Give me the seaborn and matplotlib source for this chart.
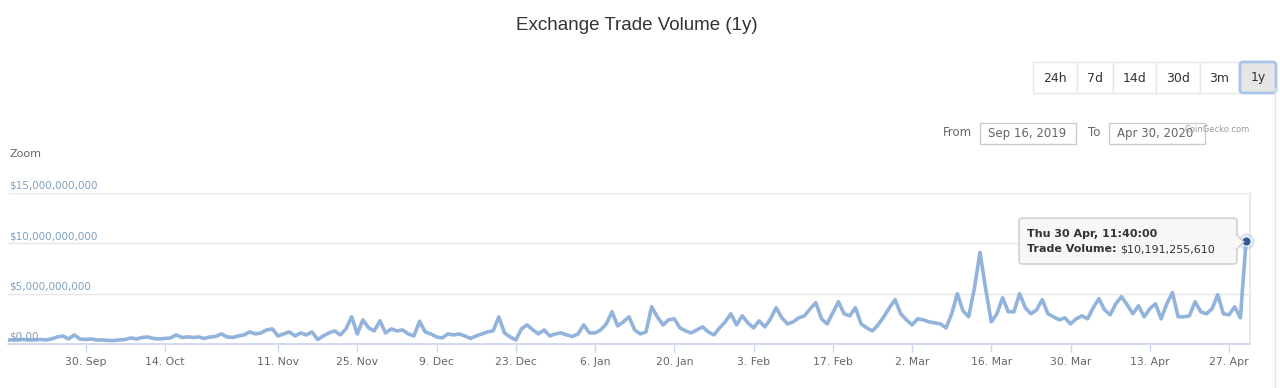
import matplotlib
matplotlib.use("Agg")
import matplotlib.pyplot as plt
import matplotlib.patches as patches
import matplotlib.transforms as mtransforms
import seaborn as sns
import pandas as pd
import numpy as np

# daily exchange trade volume, billions of USD (feed has no data for Oct 24-31)
start_date = "2019-09-16"
end_date = "2020-04-30"
gap_start = "2019-10-24"
gap_end = "2019-10-31"

volume_bn = [
    0.4, 0.4, 0.4, 0.45, 0.4, 0.4, 0.45, 0.4, 0.5, 0.7,
    0.8, 0.5, 0.9, 0.5, 0.45, 0.5, 0.4, 0.4, 0.35, 0.35,
    0.4, 0.45, 0.6, 0.5, 0.65, 0.7, 0.55, 0.5, 0.55, 0.6,
    0.9, 0.65, 0.7, 0.65, 0.7, 0.55, 0.7, 0.75, 1.0, 0.7,
    0.65, 0.8, 0.9, 1.2, 1.0, 1.1, 1.4, 1.5, 0.8, 1.0,
    1.2, 0.8, 1.1, 0.9, 1.2, 0.45, 0.8, 1.1, 1.3, 0.9,
    1.5, 2.7, 1.0, 2.4, 1.6, 1.3, 2.3, 1.1, 1.5, 1.3,
    1.4, 1.0, 0.8, 2.25, 1.2, 1.0, 0.7, 0.6, 1.0, 0.9,
    1.0, 0.8, 0.55, 0.8, 1.0, 1.2, 1.3, 2.7, 1.1, 0.7,
    0.4, 1.5, 1.9, 1.4, 1.0, 1.4, 0.8, 1.0, 1.1, 0.9,
    0.75, 1.0, 1.9, 1.1, 1.1, 1.4, 2.0, 3.2, 1.8, 2.2,
    2.7, 1.4, 1.0, 1.2, 3.7, 2.7, 1.9, 2.4, 2.5, 1.6,
    1.3, 1.1, 1.4, 1.7, 1.2, 0.9, 1.6, 2.2, 3.0, 1.9,
    2.8, 2.1, 1.6, 2.3, 1.7, 2.5, 3.6, 2.6, 2.0, 2.2,
    2.6, 2.8, 3.5, 4.1, 2.5, 2.0, 3.1, 4.2, 3.0, 2.8,
    3.6, 2.0, 1.6, 1.3, 1.9, 2.7, 3.6, 4.4, 3.0, 2.4,
    1.9, 2.5, 2.4, 2.2, 2.1, 2.0, 1.6, 3.0, 5.0, 3.3,
    2.7, 5.5, 9.1, 5.5, 2.2, 3.0, 4.6, 3.2, 3.2, 5.0,
    3.6, 3.0, 3.4, 4.4, 3.0, 2.7, 2.4, 2.6, 2.0, 2.5,
    2.8, 2.5, 3.6, 4.5, 3.4, 2.9, 4.0, 4.7, 3.9, 3.0,
    3.8, 2.7, 3.5, 4.0, 2.5, 4.0, 5.1, 2.7, 2.7, 2.8,
    4.2, 3.2, 3.0, 3.5, 4.9, 3.0, 2.9, 3.7, 2.6, 10.19125561,
]

tick_dates = ["2019-09-30", "2019-10-14", "2019-11-11", "2019-11-25", "2019-12-09",
              "2019-12-23", "2020-01-06", "2020-01-20", "2020-02-03", "2020-02-17",
              "2020-03-02", "2020-03-16", "2020-03-30", "2020-04-13", "2020-04-27"]
tick_labels = ["30. Sep", "14. Oct", "11. Nov", "25. Nov", "9. Dec", "23. Dec", "6. Jan",
               "20. Jan", "3. Feb", "17. Feb", "2. Mar", "16. Mar", "30. Mar", "13. Apr", "27. Apr"]
y_ticks = [0, 5e9, 10e9, 15e9]
y_labels = ["$0.00", "$5,000,000,000", "$10,000,000,000", "$15,000,000,000"]
range_buttons = ["24h", "7d", "14d", "30d", "3m", "1y"]
from_label = "Sep 16, 2019"
to_label = "Apr 30, 2020"
tooltip_date = "Thu 30 Apr, 11:40:00"
tooltip_value = "$10,191,255,610"

# build the ordinal (Highstock-like) series
dates = pd.date_range(start_date, end_date, freq="D")
dates = dates[(dates < gap_start) | (dates > gap_end)]
df = pd.DataFrame({"date": dates, "volume": np.array(volume_bn) * 1e9})
df["pos"] = np.arange(len(df))
tick_pos = [df.index[df["date"] == pd.Timestamp(d)][0] for d in tick_dates]

sns.set_theme(style="white")
plt.rcParams["font.family"] = ["DejaVu Sans"]

W, H = 1280, 388
fig = plt.figure(figsize=(W / 100, H / 100), dpi=100)
fig.patch.set_facecolor("white")

ax = fig.add_axes([8 / W, 1 - 344 / H, 1242 / W, 151 / H])
sns.lineplot(data=df, x="pos", y="volume", ax=ax, color="#92b3db", linewidth=2.6)

last = df.iloc[-1]
ax.scatter([last["pos"]], [last["volume"]], s=140, color="#92b3db", alpha=0.3,
           linewidths=0, zorder=4, clip_on=False)
ax.scatter([last["pos"]], [last["volume"]], s=45, color="#2f5b96", edgecolors="white",
           linewidths=0.8, zorder=5, clip_on=False)

ax.set_xlim(0.3, 219.7)
ax.set_ylim(0, 15e9)
ax.set_xlabel("")
ax.set_ylabel("")

ax.set_yticks(y_ticks)
ax.tick_params(axis="y", length=0, labelleft=False)
ax.grid(axis="y", color="#e6e6e6", linewidth=1)
ax.grid(axis="x", visible=False)

ax.set_xticks(tick_pos)
ax.set_xticklabels(tick_labels)
ax.tick_params(axis="x", length=6, width=1, color="#ccd6eb", labelsize=7.8,
               labelcolor="#666666", pad=3.5, bottom=True)

for side in ["left", "top"]:
    ax.spines[side].set_visible(False)
ax.spines["bottom"].set_color("#ccd6eb")
ax.spines["right"].set_color("#e6e6e6")

ytrans = mtransforms.blended_transform_factory(ax.transAxes, ax.transData)
for v, lab in zip(y_ticks, y_labels):
    ax.annotate(lab, xy=(0, v), xycoords=ytrans, xytext=(0.5, 1.5), textcoords="offset points",
                ha="left", va="bottom", fontsize=7.5, color="#7f9fc0", annotation_clip=False)

# overlay in pixel coordinates for title, buttons, tooltip
ov = fig.add_axes([0, 0, 1, 1])
ov.set_xlim(0, W)
ov.set_ylim(H, 0)
ov.axis("off")

ov.text(637, 26, "Exchange Trade Volume (1y)", ha="center", va="center", fontsize=13.5,
        color="#333333", family="Liberation Sans")

edges = [1033, 1077, 1113, 1156, 1200, 1239, 1277]
for i, lab in enumerate(range_buttons):
    x0, x1 = edges[i], edges[i + 1]
    if lab == "1y":
        ov.add_patch(patches.FancyBboxPatch((x0 + 1, 62), x1 - x0 - 2, 31,
                     boxstyle="round,pad=0,rounding_size=3", fc="#e6e6e6", ec="#a9c6ea", lw=2))
    else:
        ov.add_patch(patches.Rectangle((x0, 62), x1 - x0, 31, fc="white", ec="#e6e6e6", lw=1))
    ov.text((x0 + x1) / 2, 78, lab, ha="center", va="center", fontsize=9, color="#333333")

ov.plot([1275, 1275], [88, H], color="#e3e3e3", lw=1)

ov.text(943, 133, "From", ha="left", va="center", fontsize=8.5, color="#666666")
ov.add_patch(patches.Rectangle((980, 123), 96, 21, fc="white", ec="#cccccc", lw=1))
ov.text(988, 133, from_label, ha="left", va="center", fontsize=8.5, color="#666666")
ov.text(1088, 133, "To", ha="left", va="center", fontsize=8.5, color="#666666")
ov.add_patch(patches.Rectangle((1109, 123), 96, 21, fc="white", ec="#cccccc", lw=1))
ov.text(1117, 133, to_label, ha="left", va="center", fontsize=8.5, color="#666666")
ov.text(1250, 129, "CoinGecko.com", ha="right", va="center", fontsize=6, color="#999999")

ov.text(9, 154, "Zoom", ha="left", va="center", fontsize=8, color="#666666")

# tooltip
ov.add_patch(patches.FancyBboxPatch((1019, 218), 218, 46, boxstyle="round,pad=0,rounding_size=3",
             fc="#f7f7f7", ec="#c8c8c8", lw=1, alpha=0.95, zorder=6))
ov.add_patch(patches.Polygon([(1236.5, 235), (1244, 242), (1236.5, 249)], closed=True,
             fc="#f7f7f7", ec="#c8c8c8", lw=1, zorder=6))
ov.add_patch(patches.Rectangle((1235, 235.8), 2.5, 12.4, fc="#f7f7f7", ec="none", zorder=7))
ov.text(1027, 234, tooltip_date, ha="left", va="center", fontsize=8, fontweight="bold",
        color="#333333", zorder=8)
t1 = ov.text(1027, 249, "Trade Volume:", ha="left", va="center", fontsize=8,
             fontweight="bold", color="#333333", zorder=8)
fig.canvas.draw()
bb = t1.get_window_extent().transformed(ov.transData.inverted())
ov.text(bb.x1 + 4, 249, tooltip_value, ha="left", va="center", fontsize=8,
        color="#333333", zorder=8)

fig.savefig("out.png", dpi=100, facecolor="white")
